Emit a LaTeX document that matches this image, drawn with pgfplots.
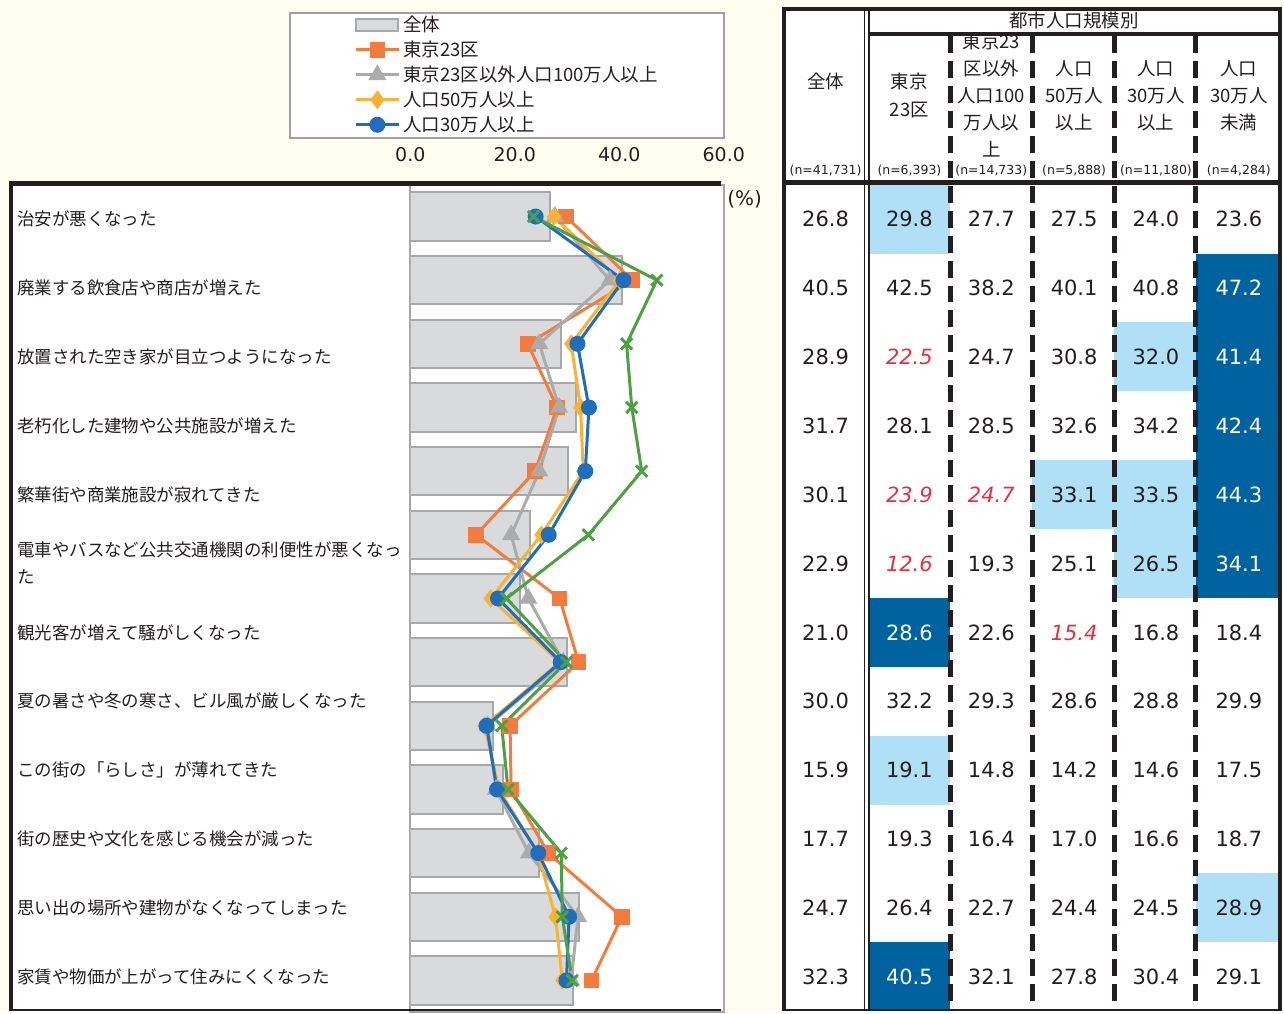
\documentclass[border=0pt]{standalone}
\usepackage{fontspec}
\setmainfont{Noto Sans CJK JP}
\newfontfamily\dv{DejaVu Sans}
\usepackage{pgfplots}
\usepackage{pgfplotstable}
\pgfplotsset{compat=1.18}

\definecolor{cream}{HTML}{FFFDF0}
\definecolor{txt}{HTML}{231F20}
\definecolor{legdraw}{HTML}{A0A0A0}
\definecolor{axgray}{HTML}{A6A6A6}
\definecolor{barfill}{HTML}{D9DADC}
\definecolor{bardraw}{HTML}{A8A8AA}
\definecolor{corange}{HTML}{F47B3E}
\definecolor{cgray}{HTML}{ABABAB}
\definecolor{cyellow}{HTML}{FBB133}
\definecolor{cblue}{HTML}{1F6EBE}
\definecolor{cgreen}{HTML}{4CA140}
\definecolor{lblue}{HTML}{AFE0F5}
\definecolor{dblue}{HTML}{00629F}
\definecolor{cred}{HTML}{E8303A}

\pgfplotsset{
  lineleg/.style={legend image code/.code={\draw[mark repeat=2,mark phase=2,##1]
    plot coordinates {(0pt,0pt) (21.5pt,0pt) (43pt,0pt)};}},
  barleg/.style={legend image code/.code={\draw[##1] (0pt,-6pt) rectangle (42pt,6pt);}},
}

% row 13 is only in the chart, the table stops at row 12
\pgfplotstableread{
row all  t23  big  p50  p30  small
1   26.8 29.8 27.7 27.5 24.0 23.6
2   40.5 42.5 38.2 40.1 40.8 47.2
3   28.9 22.5 24.7 30.8 32.0 41.4
4   31.7 28.1 28.5 32.6 34.2 42.4
5   30.1 23.9 24.7 33.1 33.5 44.3
6   22.9 12.6 19.3 25.1 26.5 34.1
7   21.0 28.6 22.6 15.4 16.8 18.4
8   30.0 32.2 29.3 28.6 28.8 29.9
9   15.9 19.1 14.8 14.2 14.6 17.5
10  17.7 19.3 16.4 17.0 16.6 18.7
11  24.7 26.4 22.7 24.4 24.5 28.9
12  32.3 40.5 32.1 27.8 30.4 29.1
13  31.2 34.7 30.8 29.1 29.9 31.0
}\data

\tikzset{
  num/.style={font=\dv\fontsize{21}{21}\selectfont, inner sep=0pt, text=txt, anchor=base},
  txt n/.style={}, txt l/.style={}, txt d/.style={text=white},
  txt r/.style={text=cred, font=\dv\itshape\fontsize{21}{21}\selectfont},
  fill n/.style={}, fill r/.style={}, fill l/.style={fill=lblue}, fill d/.style={fill=dblue},
  lab/.style={font=\fontsize{17.5}{17.5}\selectfont, inner sep=0pt, text=txt, anchor=base west},
  hd/.style={font=\fontsize{18.5}{18.5}\selectfont, inner sep=0pt, text=txt, anchor=base},
  nn/.style={font=\dv\fontsize{12.5}{12.5}\selectfont, inner sep=0pt, text=txt, anchor=base},
}

% one table row: #1 row number, #2 list of value/style
\newcommand\trow[2]{%
  \foreach \v/\s [count=\c] in {#2}{%
    \pgfmathsetmacro\xl{{785,870,952,1034,1116,1198}[\c-1]}%
    \pgfmathsetmacro\xr{{866,952,1034,1116,1198,1282}[\c-1]}%
    \pgfmathsetmacro\xc{{827,911,993,1076,1158,1241}[\c-1]}%
    \pgfmathsetmacro\yt{185+69*(#1-1)}%
    \path[fill \s] (\xl,\yt) rectangle (\xr,\yt+69);
    \node[num, txt \s] at (\xc,\yt+34.5+7.7) {\v};
  }}

\begin{document}
\begin{tikzpicture}
\begin{scope}[x=1pt,y=-1pt]
  \useasboundingbox (0,0) rectangle (1284,1013);
  \fill[cream] (0,0) rectangle (1284,1013);
  \filldraw[fill=white, draw=legdraw, line width=2pt] (291,13) rectangle (725,138);
  \fill[white] (11,184) rectangle (724,1013);
\end{scope}

\begin{axis}[
  at={(411pt,-185pt)}, anchor=north west,
  scale only axis, width=314pt, height=829pt,
  xmin=0, xmax=60, ymin=0.5, ymax=13.5, y dir=reverse,
  xtick={0,20,40,60}, xticklabels={0.0,20.0,40.0,60.0},
  xticklabel pos=upper,
  ytick=\empty,
  major tick length=0pt,
  axis line style={draw=axgray, line width=2pt},
  x tick label style={font=\dv\fontsize{19}{19}\selectfont, anchor=base, yshift=23pt, text=txt},
  legend style={at={(-0.17834,1.2042)}, anchor=north west, draw=none, fill=none,
    inner sep=0pt, outer sep=0pt, row sep=6.5pt, column sep=3pt,
    font=\fontsize{18.5}{18.5}\selectfont, text=txt,
    nodes={inner sep=0pt, text height=16.3pt, text depth=2.2pt}},
  legend cell align=left,
  lineleg,
]
\addplot[xbar, bar width=48.5pt, fill=barfill, draw=bardraw, line width=2pt, barleg]
  table[x=all, y=row] {\data};
\addplot[corange, line width=3pt, mark=square*, mark size=6.3pt, mark options={solid}]
  table[x=t23, y=row] {\data};
\addplot[cgray, line width=3pt, mark=triangle*, mark size=7.5pt, mark options={solid}]
  table[x=big, y=row] {\data};
\addplot[cyellow, line width=3pt, mark=diamond*, mark size=7pt, mark options={solid}]
  table[x=p50, y=row] {\data};
\addplot[cblue, line width=3pt, mark=*, mark size=6.5pt, mark options={solid}]
  table[x=p30, y=row] {\data};
\addplot[cgreen, line width=3pt, mark=x, mark size=8pt, mark options={solid, line width=3pt}, forget plot]
  table[x=small, y=row] {\data};
\legend{全体,東京23区,東京23区以外人口100万人以上,人口50万人以上,人口30万人以上}
\end{axis}

\begin{scope}[x=1pt,y=-1pt]
  % left frame
  \draw[line width=4.5pt, txt] (9,184) -- (722,184);
  \draw[line width=4pt, txt] (11.5,182) -- (11.5,1013);
  \draw[line width=2pt, txt] (10,1011.5) -- (722,1011.5);
  \node[font=\dv\fontsize{20}{20}\selectfont, text=txt, inner sep=0pt] at (746,200) {(\%)};

  % category labels
  \foreach \t [count=\i] in {治安が悪くなった, 廃業する飲食店や商店が増えた,
      放置された空き家が目立つようになった, 老朽化した建物や公共施設が増えた,
      繁華街や商業施設が寂れてきた, {}, 観光客が増えて騒がしくなった,
      夏の暑さや冬の寒さ、ビル風が厳しくなった, この街の「らしさ」が薄れてきた,
      街の歴史や文化を感じる機会が減った, 思い出の場所や建物がなくなってしまった,
      家賃や物価が上がって住みにくくなった}
    \node[lab] at (17,219.5+69*\i-69+6.65) {\t};
  \node[lab] at (17,551+6.65) {電車やバスなど公共交通機関の利便性が悪くなっ};
  \node[lab] at (17,578+6.65) {た};

  % table
  \fill[white] (785,8) rectangle (1282,1012);
  \trow{1}{26.8/n,29.8/l,27.7/n,27.5/n,24.0/n,23.6/n}
  \trow{2}{40.5/n,42.5/n,38.2/n,40.1/n,40.8/n,47.2/d}
  \trow{3}{28.9/n,22.5/r,24.7/n,30.8/n,32.0/l,41.4/d}
  \trow{4}{31.7/n,28.1/n,28.5/n,32.6/n,34.2/n,42.4/d}
  \trow{5}{30.1/n,23.9/r,24.7/r,33.1/l,33.5/l,44.3/d}
  \trow{6}{22.9/n,12.6/r,19.3/n,25.1/n,26.5/l,34.1/d}
  \trow{7}{21.0/n,28.6/d,22.6/n,15.4/r,16.8/n,18.4/n}
  \trow{8}{30.0/n,32.2/n,29.3/n,28.6/n,28.8/n,29.9/n}
  \trow{9}{15.9/n,19.1/l,14.8/n,14.2/n,14.6/n,17.5/n}
  \trow{10}{17.7/n,19.3/n,16.4/n,17.0/n,16.6/n,18.7/n}
  \trow{11}{24.7/n,26.4/n,22.7/n,24.4/n,24.5/n,28.9/l}
  \trow{12}{32.3/n,40.5/d,32.1/n,27.8/n,30.4/n,29.1/n}

  % header
  \node[hd] at (827,82+7) {全体};
  \node[hd] at (911,82+7) {東京};
  \node[hd] at (911,110+7) {23区};
  \foreach \t [count=\i] in {東京23,区以外,人口100,万人以,上}
    \node[hd] at (993,15+27*\i+7) {\t};
  \foreach \t [count=\i] in {人口,50万人,以上}
    \node[hd] at (1076,42+27*\i+7) {\t};
  \foreach \t [count=\i] in {人口,30万人,以上}
    \node[hd] at (1158,42+27*\i+7) {\t};
  \foreach \t [count=\i] in {人口,30万人,未満}
    \node[hd] at (1241,42+27*\i+7) {\t};
  \node[hd] at (1076,21+7) {都市人口規模別};
  \foreach \x/\t in {827/{(n=41,731)},911/{(n=6,393)},993/{(n=14,733)},
      1076/{(n=5,888)},1158/{(n=11,180)},1241/{(n=4,284)}}
    \node[nn] at (\x,170+4.5) {\t};

  % table rules
  \draw[line width=4.5pt, txt] (783,9) -- (1284,9);
  \draw[line width=4.5pt, txt] (785.5,7) -- (785.5,1013);
  \draw[line width=4pt, txt] (1282,7) -- (1282,1013);
  \draw[line width=2pt, txt] (785,1012) -- (1284,1012);
  \draw[line width=1.5pt, txt] (866,9) -- (866,1012);
  \draw[line width=1.5pt, txt] (870.5,9) -- (870.5,1012);
  \draw[line width=4.5pt, txt] (870,34) -- (1284,34);
  \draw[line width=4.5pt, txt] (785,183) -- (1284,183);
  \foreach \x in {952,1034,1116,1198}
    \draw[line width=5pt, txt, dash pattern=on 17pt off 8pt] (\x,36) -- (\x,1012);
\end{scope}
\end{tikzpicture}
\end{document}
